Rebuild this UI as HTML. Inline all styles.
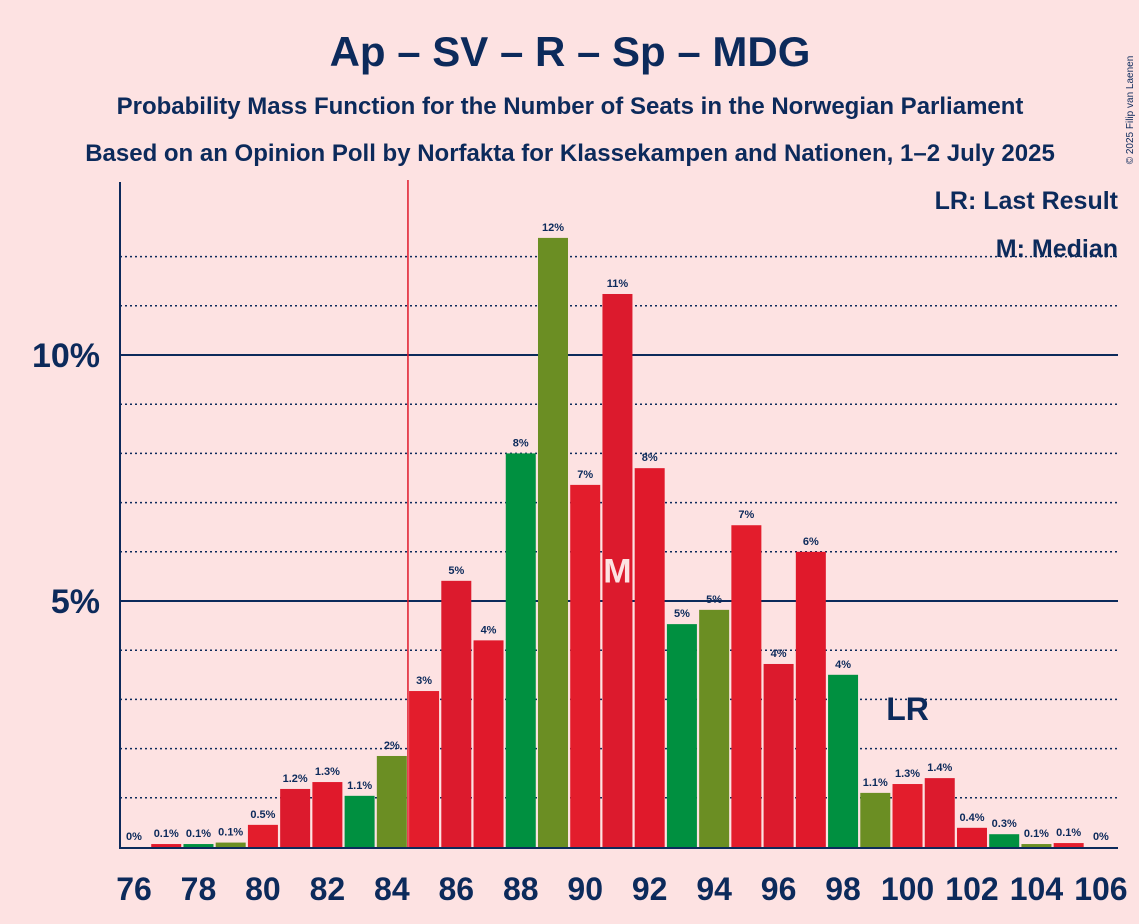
<!DOCTYPE html>
<html><head><meta charset="utf-8"><style>
html,body{margin:0;padding:0;background:#fde2e2;}
svg{display:block;font-family:"Liberation Sans",sans-serif;}
</style></head><body>
<svg id="chart" width="1139" height="924" viewBox="0 0 1139 924">
<rect width="1139" height="924" fill="#fde2e2"/>
<text x="570" y="66" text-anchor="middle" font-size="42" font-weight="bold" fill="#0c2a5b">Ap – SV – R – Sp – MDG</text>
<text x="570" y="114" text-anchor="middle" font-size="24" font-weight="bold" fill="#0c2a5b">Probability Mass Function for the Number of Seats in the Norwegian Parliament</text>
<text x="570" y="161" text-anchor="middle" font-size="24" font-weight="bold" fill="#0c2a5b">Based on an Opinion Poll by Norfakta for Klassekampen and Nationen, 1–2 July 2025</text>
<text x="1133" y="110" font-size="10" fill="#0c2a5b" transform="rotate(-90 1133 110)" text-anchor="middle">© 2025 Filip van Laenen</text>
<g id="grid"></g>
<g id="bars"></g>
<g id="axes"></g>
<text x="1118" y="209" text-anchor="end" font-size="25" font-weight="bold" fill="#0c2a5b">LR: Last Result</text>
<text x="1118" y="257" text-anchor="end" font-size="25" font-weight="bold" fill="#0c2a5b">M: Median</text>
</svg>
<script>
const seats=[76,77,78,79,80,81,82,83,84,85,86,87,88,89,90,91,92,93,94,95,96,97,98,99,100,101,102,103,104,105,106];
const probs=[0,0.06,0.06,0.09,0.45,1.18,1.32,1.04,1.85,3.17,5.41,4.2,8.0,12.38,7.36,11.24,7.7,4.53,4.82,6.54,3.72,6.0,3.5,1.1,1.28,1.4,0.39,0.26,0.06,0.08,0];
const labels=["0%","0.1%","0.1%","0.1%","0.5%","1.2%","1.3%","1.1%","2%","3%","5%","4%","8%","12%","7%","11%","8%","5%","5%","7%","4%","6%","4%","1.1%","1.3%","1.4%","0.4%","0.3%","0.1%","0.1%","0%"];
const xTicks=[76,78,80,82,84,86,88,90,92,94,96,98,100,102,104,106];
const yMajor=[5,10];
const lastResult=100, median=91, majority=84.5;
const NS="http://www.w3.org/2000/svg";
const x0=120,x1=1118,yBase=847,pxPer=49.2;
const X=s=>134+(s-76)*32.23;
const Y=v=>yBase-v*pxPer;
function mk(tag,attrs,parent,text){const e=document.createElementNS(NS,tag);for(const k in attrs)e.setAttribute(k,attrs[k]);if(text!==undefined)e.textContent=text;parent.appendChild(e);return e;}
const grid=document.getElementById('grid'),bars=document.getElementById('bars'),axes=document.getElementById('axes');
for(let v=1;v<=12;v++){
  const major=yMajor.includes(v);
  const l=mk('line',{x1:x0,x2:x1,y1:Y(v),y2:Y(v),stroke:'#0c2a5b','stroke-width':major?2:1.5,'stroke-dasharray':major?'':'2,3'},grid);
  
  
}
yMajor.forEach(v=>{
  const t=mk('text',{x:100,y:Y(v)+12,'text-anchor':'end','font-size':34,'font-weight':'bold',fill:'#0c2a5b'},axes,v+'%');
  
  
});
const cols=['#e0192b','#009040','#6b8e23','#e11d2b','#dd1a2e'];
seats.forEach((s,i)=>{
  const p=probs[i];
  const k=(s-76)%5;
  const c=k===2?'#009040':k===3?'#6b8e23':(k===1?'#e0192b':(k===4?'#e31d2c':'#dc1a2d'));
  if(p>0){
    const r=mk('rect',{x:X(s)-15,y:Y(p),width:30,height:p*pxPer,fill:c},bars);
    
    
  }
  const t=mk('text',{x:X(s),y:Y(p)-7,'text-anchor':'middle','font-size':11,'font-weight':'bold',fill:'#0c2a5b'},bars,labels[i]);
  
  
  if(s===median){
    const m=mk('text',{x:X(s),y:Y(p/2)+12,'text-anchor':'middle','font-size':34,'font-weight':'bold',fill:'#fde2e2'},bars,'M');
    
    
  }
  if(s===lastResult){
    const m=mk('text',{x:X(s),y:Y(p)-64,'text-anchor':'middle','font-size':32,'font-weight':'bold',fill:'#0c2a5b'},bars,'LR');
    
    
  }
});
const ml=mk('line',{x1:X(majority),x2:X(majority),y1:180,y2:yBase,stroke:'#e0192b','stroke-width':1.5},axes);


const ya=mk('line',{x1:x0,x2:x0,y1:182,y2:yBase+2,stroke:'#0c2a5b','stroke-width':2},axes);


const xa=mk('line',{x1:x0,x2:x1,y1:yBase+1,y2:yBase+1,stroke:'#0c2a5b','stroke-width':2},axes);


xTicks.forEach(s=>{
  const t=mk('text',{x:X(s),y:900,'text-anchor':'middle','font-size':32,'font-weight':'bold',fill:'#0c2a5b'},axes,String(s));
  
  
});
</script>
</body></html>
